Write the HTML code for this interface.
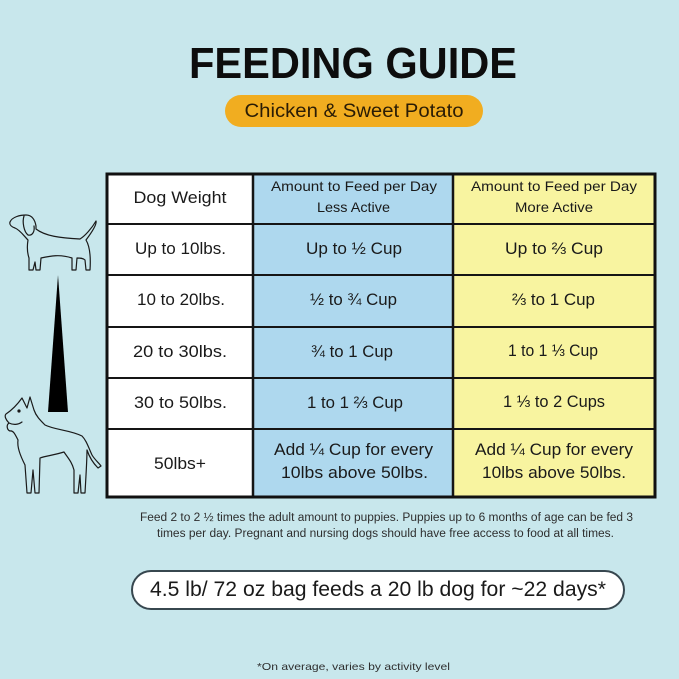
<!DOCTYPE html>
<html>
<head>
<meta charset="utf-8">
<style>
html,body{margin:0;padding:0;background:#c8e7ec;}
svg{display:block;}
text{font-family:"Liberation Sans",sans-serif;}
</style>
</head>
<body>
<svg width="679" height="679" viewBox="0 0 679 679" xmlns="http://www.w3.org/2000/svg">
<rect x="0" y="0" width="679" height="679" fill="#c8e7ec"/>

<!-- Title -->
<text x="353" y="78" font-size="44" font-weight="bold" fill="#0d0d0d" text-anchor="middle" textLength="328" lengthAdjust="spacingAndGlyphs">FEEDING GUIDE</text>

<!-- Subtitle pill -->
<rect x="225" y="95" width="258" height="32" rx="16" fill="#f1ad20"/>
<text x="354" y="117" font-size="19" fill="#2a1c05" text-anchor="middle" textLength="219" lengthAdjust="spacingAndGlyphs">Chicken &amp; Sweet Potato</text>

<!-- Table fills -->
<rect x="107" y="174" width="146" height="323" fill="#ffffff"/>
<rect x="253" y="174" width="200" height="323" fill="#aed8ee"/>
<rect x="453" y="174" width="202" height="323" fill="#f8f4a0"/>

<!-- Table lines -->
<g stroke="#151515" stroke-width="2">
<line x1="107" y1="224" x2="655" y2="224"/>
<line x1="107" y1="275" x2="655" y2="275"/>
<line x1="107" y1="327" x2="655" y2="327"/>
<line x1="107" y1="378" x2="655" y2="378"/>
<line x1="107" y1="429" x2="655" y2="429"/>
</g>
<g stroke="#151515" stroke-width="2.5">
<line x1="253" y1="174" x2="253" y2="497"/>
<line x1="453" y1="174" x2="453" y2="497"/>
</g>
<rect x="107" y="174" width="548" height="323" fill="none" stroke="#111" stroke-width="3"/>

<!-- Table text -->
<g fill="#1a1a1a" text-anchor="middle">
<text x="180" y="203" font-size="17" textLength="93" lengthAdjust="spacingAndGlyphs">Dog Weight</text>
<text x="354" y="191" font-size="14" textLength="166" lengthAdjust="spacingAndGlyphs">Amount to Feed per Day</text>
<text x="353.5" y="212" font-size="14" textLength="73" lengthAdjust="spacingAndGlyphs">Less Active</text>
<text x="554" y="191" font-size="14" textLength="166" lengthAdjust="spacingAndGlyphs">Amount to Feed per Day</text>
<text x="554" y="212" font-size="14" textLength="78" lengthAdjust="spacingAndGlyphs">More Active</text>

<text x="180.5" y="254" font-size="17" textLength="91" lengthAdjust="spacingAndGlyphs">Up to 10lbs.</text>
<text x="354" y="254" font-size="17" textLength="96" lengthAdjust="spacingAndGlyphs">Up to ½ Cup</text>
<text x="554" y="254" font-size="17" textLength="98" lengthAdjust="spacingAndGlyphs">Up to ⅔ Cup</text>

<text x="181" y="305" font-size="17" textLength="88" lengthAdjust="spacingAndGlyphs">10 to 20lbs.</text>
<text x="353.5" y="305" font-size="17" textLength="87" lengthAdjust="spacingAndGlyphs">½ to ¾ Cup</text>
<text x="553.5" y="305" font-size="17" textLength="83" lengthAdjust="spacingAndGlyphs">⅔ to 1 Cup</text>

<text x="180" y="357" font-size="17" textLength="94" lengthAdjust="spacingAndGlyphs">20 to 30lbs.</text>
<text x="352" y="357" font-size="17" textLength="82" lengthAdjust="spacingAndGlyphs">¾ to 1 Cup</text>
<text x="553" y="356" font-size="17" textLength="90" lengthAdjust="spacingAndGlyphs">1 to 1 ⅓ Cup</text>

<text x="180.5" y="408" font-size="17" textLength="93" lengthAdjust="spacingAndGlyphs">30 to 50lbs.</text>
<text x="355" y="408" font-size="17" textLength="96" lengthAdjust="spacingAndGlyphs">1 to 1 ⅔ Cup</text>
<text x="554" y="407" font-size="17" textLength="102" lengthAdjust="spacingAndGlyphs">1 ⅓ to 2 Cups</text>

<text x="180" y="469" font-size="17" textLength="52" lengthAdjust="spacingAndGlyphs">50lbs+</text>
<text x="353.5" y="455" font-size="17" textLength="159" lengthAdjust="spacingAndGlyphs">Add ¼ Cup for every</text>
<text x="354.5" y="478" font-size="17" textLength="147" lengthAdjust="spacingAndGlyphs">10lbs above 50lbs.</text>
<text x="554" y="455" font-size="17" textLength="158" lengthAdjust="spacingAndGlyphs">Add ¼ Cup for every</text>
<text x="554" y="478" font-size="17" textLength="144" lengthAdjust="spacingAndGlyphs">10lbs above 50lbs.</text>
</g>

<!-- Footnote -->
<g fill="#2e2e2e" text-anchor="middle">
<text x="386.5" y="521" font-size="11.5" textLength="493" lengthAdjust="spacingAndGlyphs">Feed 2 to 2 ½ times the adult amount to puppies. Puppies up to 6 months of age can be fed 3</text>
<text x="385.5" y="537" font-size="11.5" textLength="457" lengthAdjust="spacingAndGlyphs">times per day. Pregnant and nursing dogs should have free access to food at all times.</text>
</g>

<!-- Bag pill -->
<rect x="132" y="571" width="492" height="38" rx="19" fill="#ffffff" stroke="#37474f" stroke-width="2"/>
<text x="378" y="596" font-size="21" fill="#1a1a1a" text-anchor="middle" textLength="456" lengthAdjust="spacingAndGlyphs">4.5 lb/ 72 oz bag feeds a 20 lb dog for ~22 days*</text>

<text x="353.5" y="670" font-size="10.5" fill="#2e2e2e" text-anchor="middle" textLength="193" lengthAdjust="spacingAndGlyphs">*On average, varies by activity level</text>

<!-- Wedge -->
<polygon points="58,275 48,412 68,412" fill="#000"/>

<!-- Dachshund -->
<g fill="#c8e7ec" stroke="#1a1a1a" stroke-width="1.2" stroke-linejoin="round" stroke-linecap="round">
<path d="M10,222 C12,217 20,215 26,215 C32,215 35,220 36,226 L36,229 C45,236 60,238 80,239 C85,236 92,228 96,221 C97,224 92,232 86,240 C89,245 91,255 90,270 L86,270 L85,260 C83,258 80,258 77,258 L76,270 L72,270 L72,258 C60,254 50,256 41,258 L40,270 L36,270 L35,262 L33,270 L29,270 L29,258 C27,252 27,246 28,240 C24,236 20,230 15,228 C12,227 9,225 10,222 Z"/>
<path d="M24,216 C22,222 24,232 28,235 C32,236 35,232 34,226" fill="none"/>
</g>

<!-- Great Dane -->
<g fill="#c8e7ec" stroke="#1a1a1a" stroke-width="1.2" stroke-linejoin="round" stroke-linecap="round">
<path d="M22,398 L27,408 L30,397 L34,410 C36,416 40,420 45,425 C55,430 70,430 82,436 C86,440 88,446 92,455 C95,460 99,463 101,466 L98,468 C93,463 89,456 87,450 C87,460 86,475 85,493 L81,493 L80,475 L78,493 L74,493 L74,470 C72,462 68,458 64,452 C55,455 45,456 40,458 L39,493 L35,493 L33,470 L31,493 L27,493 L25,465 C20,455 17,447 18,440 C15,434 13,430 10,431 C7,430 6,425 9,423 C6,420 4,416 6,414 C12,410 17,405 22,398 Z"/>
<circle cx="19" cy="411" r="1" fill="#1a1a1a"/>
<path d="M9,423 C13,425 18,425 22,422" fill="none"/>
</g>
</svg>
</body>
</html>
